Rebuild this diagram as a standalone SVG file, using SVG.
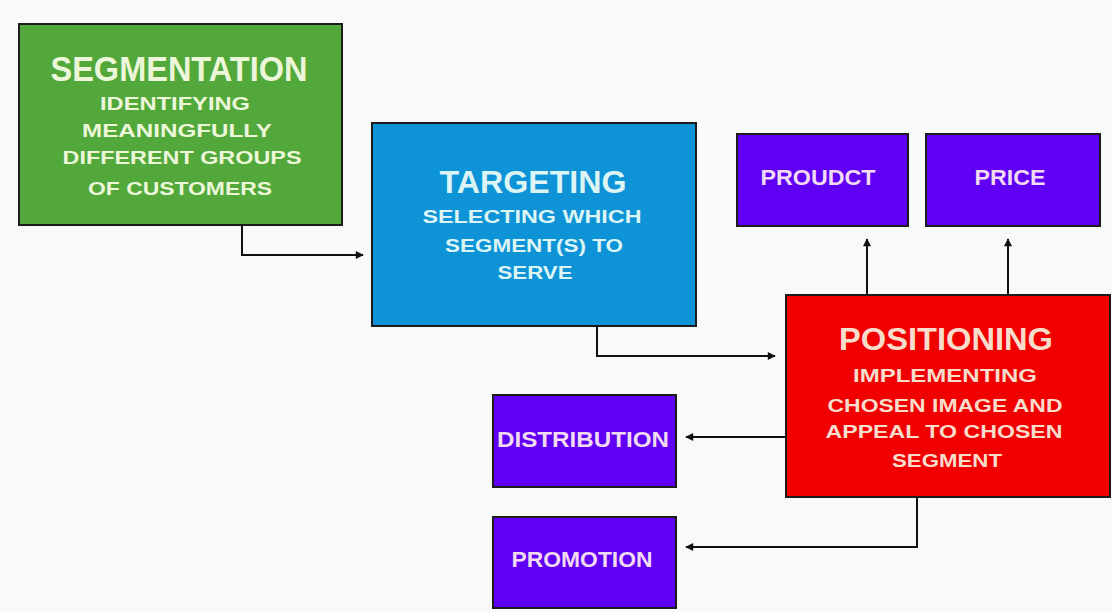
<svg xmlns="http://www.w3.org/2000/svg" width="1112" height="612" viewBox="0 0 1112 612">
<defs>
<style>
.box{stroke:#1c1c1c;stroke-width:2}
.t{font-family:"Liberation Sans",Arial,sans-serif;font-weight:bold;text-anchor:middle}
.sub{font-size:19px}
.lab{font-size:22px}
.conn{fill:none;stroke:#111;stroke-width:2}
</style>
<marker id="ah" viewBox="0 0 10 10" refX="9" refY="5" markerWidth="10" markerHeight="8" markerUnits="userSpaceOnUse" orient="auto">
<path d="M0,0 L10,5 L0,10 z" fill="#111"/>
</marker>
</defs>
<rect x="0" y="0" width="1112" height="612" fill="#f8f9f9"/>
<g id="segmentation">
<rect class="box" x="19" y="24" width="323" height="201" fill="#52a83a"/>
<g class="t" fill="#ecf6d8">
<text x="179" y="81" font-size="35" textLength="257" lengthAdjust="spacingAndGlyphs">SEGMENTATION</text>
<text class="sub" x="175" y="110" textLength="150" lengthAdjust="spacingAndGlyphs">IDENTIFYING</text>
<text class="sub" x="177" y="137" textLength="190" lengthAdjust="spacingAndGlyphs">MEANINGFULLY</text>
<text class="sub" x="182" y="164" textLength="239" lengthAdjust="spacingAndGlyphs">DIFFERENT GROUPS</text>
<text class="sub" x="180" y="195" textLength="184" lengthAdjust="spacingAndGlyphs">OF CUSTOMERS</text>
</g>
</g>
<g id="targeting">
<rect class="box" x="372" y="123" width="324" height="203" fill="#0d93d6"/>
<g class="t" fill="#dcf4f4">
<text x="533" y="193" font-size="32" textLength="187" lengthAdjust="spacingAndGlyphs">TARGETING</text>
<text class="sub" x="532" y="223" textLength="219" lengthAdjust="spacingAndGlyphs">SELECTING WHICH</text>
<text class="sub" x="534" y="252" textLength="178" lengthAdjust="spacingAndGlyphs">SEGMENT(S) TO</text>
<text class="sub" x="535" y="279" textLength="75" lengthAdjust="spacingAndGlyphs">SERVE</text>
</g>
</g>
<g id="positioning">
<rect class="box" x="786" y="295" width="324" height="202" fill="#f00000"/>
<g class="t" fill="#f8dccc">
<text x="946" y="350" font-size="31" textLength="214" lengthAdjust="spacingAndGlyphs">POSITIONING</text>
<text class="sub" x="945" y="382" textLength="184" lengthAdjust="spacingAndGlyphs">IMPLEMENTING</text>
<text class="sub" x="945" y="412" textLength="235" lengthAdjust="spacingAndGlyphs">CHOSEN IMAGE AND</text>
<text class="sub" x="944" y="438" textLength="237" lengthAdjust="spacingAndGlyphs">APPEAL TO CHOSEN</text>
<text class="sub" x="947" y="467" textLength="110" lengthAdjust="spacingAndGlyphs">SEGMENT</text>
</g>
</g>
<g id="product">
<rect class="box" x="737" y="134" width="171" height="92" fill="#5f00f5"/>
<text class="t lab" x="818" y="185" fill="#f2daf2" textLength="115" lengthAdjust="spacingAndGlyphs">PROUDCT</text>
</g>
<g id="price">
<rect class="box" x="926" y="134" width="174" height="92" fill="#5f00f5"/>
<text class="t lab" x="1010" y="185" fill="#f2daf2" textLength="71" lengthAdjust="spacingAndGlyphs">PRICE</text>
</g>
<g id="distribution">
<rect class="box" x="493" y="395" width="183" height="92" fill="#5f00f5"/>
<text class="t lab" x="583" y="447" fill="#f2daf2" textLength="172" lengthAdjust="spacingAndGlyphs">DISTRIBUTION</text>
</g>
<g id="promotion">
<rect class="box" x="493" y="517" width="183" height="91" fill="#5f00f5"/>
<text class="t lab" x="582" y="567" fill="#f2daf2" textLength="141" lengthAdjust="spacingAndGlyphs">PROMOTION</text>
</g>
<g id="connectors">
<path class="conn" d="M242,225 V255 H363" marker-end="url(#ah)"/>
<path class="conn" d="M597,326 V356 H775" marker-end="url(#ah)"/>
<path class="conn" d="M867,295 V239" marker-end="url(#ah)"/>
<path class="conn" d="M1008,295 V239" marker-end="url(#ah)"/>
<path class="conn" d="M786,437 H686" marker-end="url(#ah)"/>
<path class="conn" d="M917,497 V547 H686" marker-end="url(#ah)"/>
</g>
</svg>
